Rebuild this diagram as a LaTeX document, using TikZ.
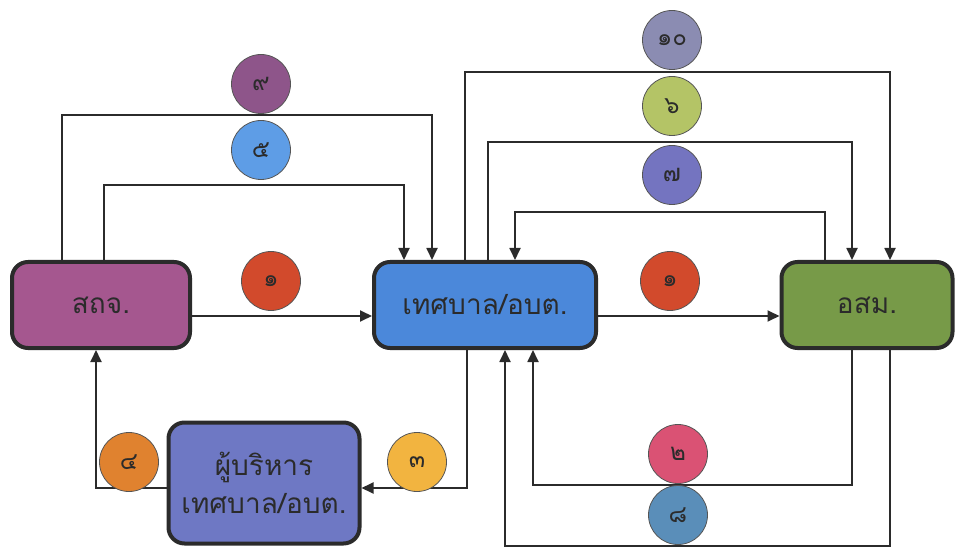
\documentclass[tikz,border=0pt]{standalone}
\usepackage{fontspec}
\newfontfamily\thaifont[Script=Thai]{Loma}
\usetikzlibrary{arrows.meta}
\definecolor{edgegray}{HTML}{2B2B2B}
\definecolor{cA}{HTML}{A5578F}
\definecolor{cB}{HTML}{4B88DA}
\definecolor{cC}{HTML}{779A48}
\definecolor{cD}{HTML}{6E78C4}
\definecolor{c1}{HTML}{D24A2C}
\definecolor{c2}{HTML}{DA5274}
\definecolor{c3}{HTML}{F2B440}
\definecolor{c4}{HTML}{E0822F}
\definecolor{c5}{HTML}{5E9DE6}
\definecolor{c6}{HTML}{B4C466}
\definecolor{c7}{HTML}{7474C0}
\definecolor{c8}{HTML}{5A8EB9}
\definecolor{c9}{HTML}{8E558A}
\definecolor{c10}{HTML}{8B8CB2}
\tikzset{
  box/.style={rectangle, rounded corners=16pt, draw=edgegray, line width=4pt,
    align=center, text=edgegray, font=\thaifont\fontsize{28}{38}\selectfont},
  num/.style={circle, draw=edgegray!80, line width=0.8pt, minimum size=59pt,
    inner sep=0pt, text=edgegray, font=\thaifont\fontsize{24}{24}\selectfont},
  flow/.style={draw=edgegray, line width=1.8pt, -{Triangle[length=12pt,width=11pt]}}
}
\begin{document}
\begin{tikzpicture}[x=1pt,y=-1pt]
\useasboundingbox (0,0) rectangle (959,548);
% boxes
\node[box, fill=cA, minimum width=178pt, minimum height=86pt] (sko) at (101,305) {สถจ.};
\node[box, fill=cB, minimum width=222pt, minimum height=86pt] (tes) at (485,305) {เทศบาล/อบต.};
\node[box, fill=cC, minimum width=171pt, minimum height=86pt] (osm) at (867,305) {อสม.};
\node[box, fill=cD, minimum width=191pt, minimum height=121pt] (boss) at (264,483) {ผู้บริหาร\\เทศบาล/อบต.};
% connectors
\draw[flow] (sko.east |- 0,316) -- (tes.west |- 0,316);
\draw[flow] (tes.east |- 0,316) -- (osm.west |- 0,316);
\draw[flow] (62,0 |- sko.north) |- (432,115) -- (432,0 |- tes.north);
\draw[flow] (104,0 |- sko.north) |- (404,185) -- (404,0 |- tes.north);
\draw[flow] (465,0 |- tes.north) |- (890,72) -- (890,0 |- osm.north);
\draw[flow] (488,0 |- tes.north) |- (852,142) -- (852,0 |- osm.north);
\draw[flow] (825,0 |- osm.north) |- (515,212) -- (515,0 |- tes.north);
\draw[flow] (852,0 |- osm.south) |- (533,485) -- (533,0 |- tes.south);
\draw[flow] (890,0 |- osm.south) |- (505,546) -- (505,0 |- tes.south);
\draw[flow] (467,0 |- tes.south) |- (boss.east |- 0,488);
\draw[flow] (boss.west |- 0,488) -| (96,0 |- sko.south);
% numbers
\node[num, fill=c9] (n9) at (261,84) {๙};
\node[num, fill=c5] (n5) at (261,150) {๕};
\node[num, fill=c1] (n1a) at (271,281) {๑};
\node[num, fill=c1] (n1b) at (670,281) {๑};
\node[num, fill=c10] (n10) at (672,40) {๑๐};
\node[num, fill=c6] (n6) at (672,106) {๖};
\node[num, fill=c7] (n7) at (672,175) {๗};
\node[num, fill=c2] (n2) at (678,454) {๒};
\node[num, fill=c8] (n8) at (678,515) {๘};
\node[num, fill=c4] (n4) at (129,462) {๔};
\node[num, fill=c3] (n3) at (417,462) {๓};
\end{tikzpicture}
\end{document}
